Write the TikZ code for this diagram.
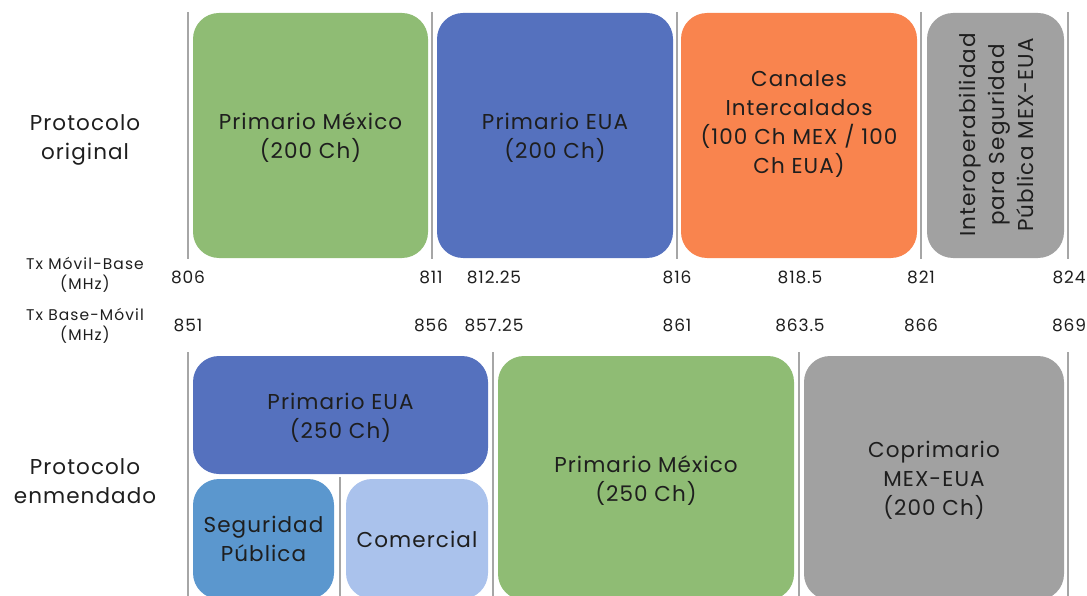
\documentclass[tikz,border=0pt]{standalone}
\usepackage{fontspec}
\setmainfont{Poppins}
\newfontfamily\wide[LetterSpace=5]{Poppins}
\newfontfamily\wider[LetterSpace=7]{Poppins}
\definecolor{cgreen}{HTML}{8FBC74}
\definecolor{cblue}{HTML}{5571BE}
\definecolor{corange}{HTML}{F9844E}
\definecolor{cgray}{HTML}{A1A1A1}
\definecolor{cseg}{HTML}{5B97CE}
\definecolor{ccom}{HTML}{AAC2EC}
\definecolor{cline}{HTML}{A6A6A6}
\definecolor{ctext}{HTML}{1E1E1E}
\tikzset{
  box/.style={rounded corners=26pt, inner sep=0pt},
  sep/.style={draw=cline, line width=2pt},
  lbl/.style={align=center, text=ctext, font=\wide\fontsize{21.5}{29}\selectfont},
  btxt/.style={lbl, yshift=-2.5pt},
  axl/.style={align=center, text=ctext, font=\wider\fontsize{15.5}{20}\selectfont},
  num/.style={text=ctext, font=\wide\fontsize{17}{20}\selectfont, inner sep=0pt},
}
\begin{document}
\begin{tikzpicture}[x=1pt,y=-1pt]
\useasboundingbox (0,0) rectangle (1087,596);
\clip (0,0) rectangle (1087,596);
% separators
\foreach \xx in {188,432,677,921,1068} \draw[sep] (\xx,12) -- (\xx,259);
\foreach \xx in {188,493,799,1068} \draw[sep] (\xx,352) -- (\xx,600);
\draw[sep] (340,477) -- (340,600);
% top boxes
\node[box, fill=cgreen, minimum width=235pt, minimum height=245pt] (pm1) at (310.5,135.5) {};
\node[btxt] (pm1t) at (pm1.center) {Primario México\\(200 Ch)};
\node[box, fill=cblue, minimum width=236pt, minimum height=245pt] (pe1) at (555,135.5) {};
\node[btxt] (pe1t) at (pe1.center) {Primario EUA\\(200 Ch)};
\node[box, fill=corange, minimum width=236pt, minimum height=245pt] (ci) at (799,135.5) {};
\node[lbl] (cit) at (799,124) {Canales\\Intercalados\\(100 Ch MEX / 100\\Ch EUA)};
\node[box, fill=cgray, minimum width=137pt, minimum height=245pt] (io) at (995.5,135.5) {};
\node[lbl, rotate=90] (iot) at (996,135) {Interoperabilidad\\para Seguridad\\Pública MEX-EUA};
% bottom boxes
\node[box, fill=cblue, minimum width=295pt, minimum height=118pt] (pe2) at (340.5,415) {};
\node[btxt] (pe2t) at (pe2.center) {Primario EUA\\(250 Ch)};
\node[box, fill=cseg, minimum width=141pt, minimum height=120pt] (sp) at (263.5,539) {};
\node[lbl] (spt) at (sp.center) {Seguridad\\Pública};
\node[box, fill=ccom, minimum width=142pt, minimum height=120pt] (co) at (417,539) {};
\node[lbl] (cot) at (co.center) {Comercial};
\node[box, fill=cgreen, minimum width=296pt, minimum height=244pt] (pm2) at (646,478) {};
\node[btxt] (pm2t) at (pm2.center) {Primario México\\(250 Ch)};
\node[box, fill=cgray, minimum width=260pt, minimum height=244pt] (cp) at (934,478) {};
\node[btxt] (cpt) at (cp.center) {Coprimario\\MEX-EUA\\(200 Ch)};
% row labels
\node[lbl] (po) at (85,140) {Protocolo\\original};
\node[lbl] (pen) at (85,481) {Protocolo\\enmendado};
\node[axl] (tx1) at (85,275) {Tx Móvil-Base\\(MHz)};
\node[axl] (tx2) at (85,326) {Tx Base-Móvil\\(MHz)};
% numbers
\node[num] (a1) at (188,277) {806};
\node[num] (a2) at (431,277) {811};
\node[num] (a3) at (494,277) {812.25};
\node[num] (a4) at (677,277) {816};
\node[num] (a5) at (800,277) {818.5};
\node[num] (a6) at (921,277) {821};
\node[num] (a7) at (1069,277) {824};
\node[num] (b1) at (188,325) {851};
\node[num] (b2) at (431,325) {856};
\node[num] (b3) at (494,325) {857.25};
\node[num] (b4) at (677,325) {861};
\node[num] (b5) at (800,325) {863.5};
\node[num] (b6) at (921,325) {866};
\node[num] (b7) at (1069,325) {869};
\end{tikzpicture}
\end{document}
